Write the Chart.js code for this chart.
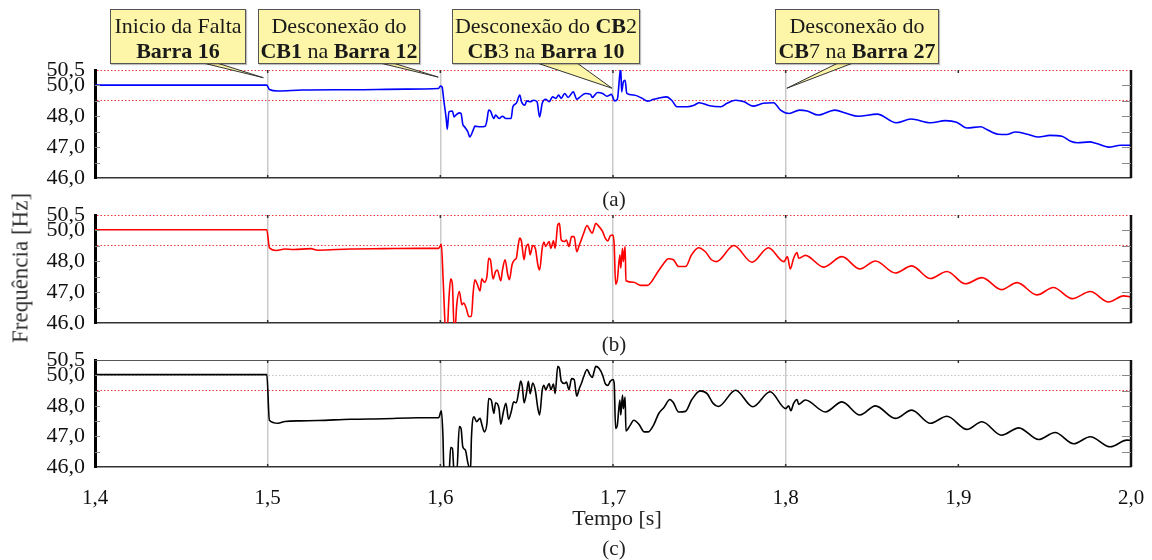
<!DOCTYPE html>
<html>
<head>
<meta charset="utf-8">
<script src="https://cdn.jsdelivr.net/npm/chart.js@4.4.1/dist/chart.umd.min.js"></script>
<style>
  body { margin: 0; background: #fff; width: 1152px; height: 560px; position: relative; overflow: hidden;
         font-family: "Liberation Serif", "Times New Roman", serif; color: #222; }
  canvas { position: absolute; left: 0; }
  .lbl { position: absolute; transform: translate(-50%, -50%); font-size: 21px; line-height: 1; white-space: nowrap; }
  .box { position: absolute; top: 9px; height: 55px; box-sizing: border-box; background: #fdf6a8;
         border: 1px solid #555; text-align: center; font-size: 22px; line-height: 25px; padding-top: 3px;
         white-space: nowrap; box-shadow: 1px 1px 1px rgba(0,0,0,0.25); color: #1a1a1a; }
</style>
</head>
<body>
<canvas id="chartA" width="1152" height="190" style="top:0"></canvas>
<canvas id="chartB" width="1152" height="130" style="top:200px"></canvas>
<canvas id="chartC" width="1152" height="215" style="top:345px"></canvas>

<div class="lbl" style="left:614px;top:199px">(a)</div>
<div class="lbl" style="left:614px;top:344px">(b)</div>
<div class="lbl" style="left:614px;top:548px">(c)</div>
<div class="lbl" style="left:617px;top:518px;font-size:22px">Tempo [s]</div>
<div class="lbl" style="left:20px;top:268px;font-size:23px;color:#333;transform:translate(-50%,-50%) rotate(-90deg)">Frequência [Hz]</div>
<div id="boxes"></div>

<script>
// ---- eixos ----
const xTickValues = [1.4, 1.5, 1.6, 1.7, 1.8, 1.9, 2.0];
const xTickLabels = ['1,4', '1,5', '1,6', '1,7', '1,8', '1,9', '2,0'];
const yTickValues = [46, 46.5, 47, 47.5, 48, 48.5, 49, 49.5];
const yTickLabels = ['46,0', '', '47,0', '', '48,0', '', '50,0', '50,5'];
const eventTimes = [1.5, 1.6, 1.7, 1.8];   // linhas verticais cinza
const limitLines = [48.5, 49.5];           // linhas pontilhadas vermelhas

// ---- (a) ----
const timeA = [
  1.400, 1.4995, 1.501, 1.506, 1.520, 1.550, 1.580, 1.599, 1.600, 1.601,
  1.602, 1.6035, 1.604, 1.605, 1.607, 1.608, 1.609, 1.611, 1.612, 1.613,
  1.614, 1.616, 1.617, 1.619, 1.620, 1.623, 1.626, 1.627, 1.628, 1.629,
  1.631, 1.632, 1.634, 1.636, 1.638, 1.641, 1.642, 1.644, 1.646, 1.647,
  1.649, 1.650, 1.652, 1.654, 1.656, 1.6575, 1.659, 1.661, 1.663, 1.665,
  1.667, 1.6685, 1.670, 1.672, 1.674, 1.677, 1.679, 1.681, 1.684, 1.687,
  1.688, 1.691, 1.694, 1.6965, 1.699, 1.701, 1.7025, 1.704, 1.7045, 1.705,
  1.706, 1.707, 1.708, 1.712, 1.717, 1.720, 1.7235, 1.726, 1.731, 1.734,
  1.737, 1.743, 1.747, 1.750, 1.756, 1.7625, 1.766, 1.771, 1.776, 1.781,
  1.787, 1.793, 1.797, 1.802, 1.808, 1.8125, 1.819, 1.8285, 1.835, 1.842,
  1.853, 1.864, 1.8725, 1.884, 1.8925, 1.899, 1.905, 1.913, 1.9165, 1.923,
  1.928, 1.933, 1.940, 1.9465, 1.953, 1.960, 1.965, 1.969, 1.976, 1.980,
  1.987, 1.994, 2.000
];
const freqA = [
  49.01, 49.01, 48.87, 48.82, 48.85, 48.86, 48.88, 48.90, 48.98, 48.95,
  48.52, 47.87, 47.58, 48.14, 48.17, 47.98, 48.04, 48.11, 48.09, 47.74,
  47.66, 47.49, 47.33, 47.55, 47.68, 47.66, 47.68, 47.87, 48.20, 48.17,
  47.93, 48.04, 47.93, 48.00, 47.93, 47.93, 48.31, 48.42, 48.69, 48.47,
  48.36, 48.50, 48.47, 48.52, 48.47, 47.98, 48.42, 48.55, 48.47, 48.63,
  48.58, 48.69, 48.58, 48.74, 48.61, 48.79, 48.55, 48.63, 48.74, 48.71,
  48.61, 48.77, 48.74, 48.65, 48.71, 48.50, 48.55, 49.39, 49.55, 48.79,
  49.12, 49.17, 48.74, 48.69, 48.58, 48.49, 48.55, 48.58, 48.63, 48.52,
  48.31, 48.31, 48.36, 48.44, 48.34, 48.31, 48.42, 48.52, 48.47, 48.33,
  48.42, 48.44, 48.20, 48.09, 48.20, 48.17, 48.04, 48.20, 48.10, 48.00,
  48.07, 47.79, 47.91, 47.79, 47.86, 47.81, 47.62, 47.66, 47.57, 47.42,
  47.41, 47.49, 47.42, 47.33, 47.38, 47.35, 47.19, 47.14, 47.17, 47.12,
  47.00, 47.06, 47.06
];

// ---- (b) ----
const timeB = [
  1.400, 1.4995, 1.501, 1.505, 1.510, 1.515, 1.525, 1.529, 1.548, 1.5675,
  1.587, 1.599, 1.6006, 1.6015, 1.602, 1.603, 1.604, 1.605, 1.606, 1.607,
  1.608, 1.6085, 1.6095, 1.611, 1.6125, 1.6135, 1.615, 1.6165, 1.618, 1.619,
  1.620, 1.6215, 1.623, 1.624, 1.6255, 1.627, 1.628, 1.629, 1.6305, 1.632,
  1.633, 1.635, 1.636, 1.6375, 1.639, 1.640, 1.6415, 1.643, 1.644, 1.645,
  1.646, 1.647, 1.6485, 1.6495, 1.651, 1.652, 1.6535, 1.655, 1.6565, 1.6575,
  1.659, 1.660, 1.661, 1.663, 1.664, 1.6655, 1.6665, 1.668, 1.669, 1.670,
  1.672, 1.673, 1.6745, 1.676, 1.6775, 1.679, 1.6805, 1.682, 1.683, 1.685,
  1.6865, 1.688, 1.689, 1.690, 1.692, 1.694, 1.6955, 1.697, 1.6985, 1.700,
  1.7007, 1.7015, 1.7025, 1.704, 1.7045, 1.7055, 1.706, 1.707, 1.7075, 1.712,
  1.716, 1.720, 1.7225, 1.7255, 1.7295, 1.732, 1.735, 1.738, 1.742, 1.7455,
  1.7495, 1.7535, 1.757, 1.760, 1.770, 1.7805, 1.790, 1.799, 1.801, 1.8027,
  1.8046, 1.8066, 1.8075, 1.8114, 1.822, 1.8326, 1.843, 1.852, 1.8635, 1.873,
  1.8838, 1.8934, 1.904, 1.9137, 1.925, 1.934, 1.9455, 1.955, 1.966, 1.9764,
  1.987, 1.9957, 2.000
];
const freqB = [
  49.02, 49.02, 48.44, 48.35, 48.40, 48.38, 48.41, 48.36, 48.40, 48.41,
  48.42, 48.42, 48.55, 47.56, 46.91, 45.80, 45.80, 46.81, 47.43, 47.24,
  45.80, 45.80, 46.59, 47.02, 46.59, 46.65, 46.48, 46.21, 46.21, 46.97,
  47.40, 47.24, 47.04, 47.43, 47.32, 47.51, 48.10, 48.05, 47.43, 47.67,
  47.72, 47.37, 47.72, 48.05, 47.58, 47.40, 47.88, 48.05, 48.10, 48.48,
  48.75, 48.64, 48.05, 48.42, 48.55, 48.21, 48.51, 48.42, 47.88, 47.72,
  48.42, 48.62, 48.48, 48.64, 48.42, 48.66, 48.42, 49.18, 49.23, 48.69,
  48.64, 48.69, 48.48, 48.80, 48.80, 48.31, 48.53, 48.75, 48.91, 49.16,
  49.02, 48.91, 49.07, 49.23, 49.12, 48.96, 48.75, 48.66, 48.83, 48.85,
  48.53, 47.26, 47.40, 48.21, 47.78, 48.42, 47.99, 48.48, 47.37, 47.32,
  47.22, 47.22, 47.35, 47.62, 47.94, 48.08, 48.05, 47.83, 47.83, 48.21,
  48.44, 48.31, 48.05, 47.99, 48.51, 47.97, 48.44, 47.99, 48.15, 47.75,
  48.10, 48.28, 48.10, 48.19, 47.81, 48.15, 47.75, 48.01, 47.62, 47.85,
  47.44, 47.67, 47.27, 47.47, 47.08, 47.31, 46.91, 47.15, 46.79, 47.02,
  46.68, 46.88, 46.84
];

// ---- (c) ----
const timeC = [
  1.400, 1.4995, 1.501, 1.506, 1.510, 1.519, 1.529, 1.548, 1.5675, 1.587,
  1.599, 1.6006, 1.6015, 1.602, 1.604, 1.605, 1.606, 1.607, 1.608, 1.6095,
  1.611, 1.612, 1.613, 1.6145, 1.616, 1.6175, 1.618, 1.6195, 1.621, 1.623,
  1.624, 1.6255, 1.627, 1.628, 1.6295, 1.631, 1.632, 1.634, 1.635, 1.6365,
  1.638, 1.6395, 1.641, 1.6425, 1.644, 1.6455, 1.6465, 1.6475, 1.6485, 1.650,
  1.651, 1.652, 1.6535, 1.655, 1.6565, 1.6575, 1.659, 1.660, 1.661, 1.663,
  1.664, 1.6655, 1.6665, 1.668, 1.669, 1.670, 1.672, 1.673, 1.6745, 1.676,
  1.6775, 1.679, 1.6805, 1.682, 1.683, 1.685, 1.6865, 1.688, 1.689, 1.690,
  1.692, 1.694, 1.6955, 1.697, 1.6985, 1.700, 1.7007, 1.7015, 1.7025, 1.704,
  1.7045, 1.7055, 1.706, 1.707, 1.7075, 1.710, 1.712, 1.715, 1.718, 1.7205,
  1.7235, 1.7265, 1.7295, 1.733, 1.735, 1.738, 1.742, 1.7455, 1.7505, 1.7545,
  1.758, 1.761, 1.771, 1.781, 1.791, 1.800, 1.8017, 1.803, 1.8046, 1.8066,
  1.8075, 1.8114, 1.823, 1.8326, 1.843, 1.852, 1.8635, 1.873, 1.8838, 1.8934,
  1.905, 1.9137, 1.925, 1.935, 1.9465, 1.956, 1.9668, 1.9764, 1.988, 1.9976,
  2.000
];
const freqC = [
  49.02, 49.02, 47.53, 47.43, 47.49, 47.51, 47.52, 47.56, 47.58, 47.61,
  47.61, 47.84, 47.04, 46.01, 45.80, 45.80, 46.64, 46.61, 45.80, 45.80,
  47.32, 47.26, 46.66, 46.55, 46.12, 45.90, 46.94, 47.64, 47.48, 47.59,
  47.40, 47.15, 47.43, 48.24, 48.19, 47.75, 48.10, 47.91, 47.40, 47.80,
  48.08, 47.56, 47.80, 48.13, 48.10, 48.51, 48.81, 48.62, 48.10, 48.46,
  48.80, 48.40, 48.75, 48.51, 47.91, 47.70, 48.51, 48.67, 48.53, 48.73,
  48.53, 48.71, 48.40, 49.29, 49.22, 48.81, 48.73, 48.78, 48.53, 48.89,
  48.86, 48.32, 48.57, 48.78, 48.95, 49.19, 49.03, 48.93, 49.11, 49.29,
  49.22, 49.00, 48.73, 48.67, 48.81, 48.86, 48.73, 47.26, 47.37, 48.19,
  47.70, 48.35, 47.91, 48.29, 47.18, 47.37, 47.53, 47.40, 47.15, 47.15,
  47.37, 47.75, 47.95, 48.21, 48.10, 47.80, 47.82, 48.19, 48.49, 48.40,
  48.08, 47.98, 48.51, 47.97, 48.46, 47.91, 48.00, 47.84, 48.08, 48.21,
  48.05, 48.19, 47.80, 48.13, 47.70, 48.00, 47.59, 47.86, 47.43, 47.66,
  47.23, 47.48, 47.04, 47.28, 46.90, 47.13, 46.76, 46.99, 46.66, 46.88,
  46.87
];

// ---- balões (a) ----
const calloutLine1 = ['Inicio da Falta', 'Desconexão do', 'Desconexão do <b>CB</b>2', 'Desconexão do'];
const calloutLine2 = ['<b>Barra 16</b>', '<b>CB1</b> na <b>Barra 12</b>', '<b>CB</b>3 na <b>Barra 10</b>', '<b>CB</b>7 na <b>Barra 27</b>'];
const calloutTipTime = [1.4975, 1.5988, 1.6994, 1.8007];
const calloutTipFreq = [49.25, 49.27, 48.91, 48.91];

// posição dos balões (layout, px)
const boxLeft = [110, 258, 452, 775];
const boxWidth = [136, 162, 188, 164];
const boxBottom = 64;
const wedgeBase = [[203, 217], [380, 393], [537, 577], [838, 853]];

const boxesEl = document.getElementById('boxes');
calloutLine1.forEach((l1, i) => {
  const d = document.createElement('div');
  d.className = 'box';
  d.style.left = boxLeft[i] + 'px';
  d.style.width = boxWidth[i] + 'px';
  d.innerHTML = l1 + '<br>' + calloutLine2[i];
  boxesEl.appendChild(d);
});

const near = (a, b) => Math.abs(a - b) < 1e-6;
const FONT_X = { family: '"Liberation Serif", "Times New Roman", serif', size: 21 };
const FONT_Y = { family: '"Liberation Serif", "Times New Roman", serif', size: 22 };

// sem padding automático das escalas: a área do gráfico fica fixa pelo layout
const noPad = s => { s.paddingLeft = 0; s.paddingRight = 0; s.paddingTop = 0; s.paddingBottom = 0; };

// moldura: borda direita e marcas internas
const framePlugin = {
  id: 'frame',
  afterDraw(chart, args, opts) {
    const { ctx, chartArea: a, scales: { x, y } } = chart;
    ctx.save();
    if (opts.topLine) {
      ctx.strokeStyle = '#555'; ctx.lineWidth = 1;
      ctx.beginPath(); ctx.moveTo(a.left, a.top + 0.5); ctx.lineTo(a.right, a.top + 0.5); ctx.stroke();
    }
    ctx.strokeStyle = '#111'; ctx.lineWidth = 2.5;
    ctx.beginPath(); ctx.moveTo(a.right, a.top); ctx.lineTo(a.right, a.bottom); ctx.stroke();
    ctx.strokeStyle = '#333'; ctx.lineWidth = 1.5;
    xTickValues.slice(1, -1).forEach(v => {
      const px = x.getPixelForValue(v);
      ctx.beginPath();
      ctx.moveTo(px, a.top); ctx.lineTo(px, a.top + 3);
      ctx.moveTo(px, a.bottom); ctx.lineTo(px, a.bottom - 3);
      ctx.stroke();
    });
    ctx.strokeStyle = '#888'; ctx.lineWidth = 1;
    yTickValues.slice(1, -1).forEach(v => {
      const py = Math.round(y.getPixelForValue(v)) + 0.5;
      ctx.beginPath();
      ctx.moveTo(a.left, py); ctx.lineTo(a.left + 5, py);
      ctx.moveTo(a.right - 9, py); ctx.lineTo(a.right, py);
      ctx.stroke();
    });
    ctx.restore();
  }
};

// setas dos balões
const calloutPlugin = {
  id: 'callout',
  afterDatasetsDraw(chart) {
    const { ctx, scales: { x, y } } = chart;
    ctx.save();
    ctx.fillStyle = '#fdf6a8';
    ctx.strokeStyle = '#333';
    ctx.lineWidth = 1;
    calloutTipTime.forEach((t, i) => {
      const tx = x.getPixelForValue(t), ty = y.getPixelForValue(calloutTipFreq[i]);
      ctx.beginPath();
      ctx.moveTo(wedgeBase[i][0], boxBottom - 1);
      ctx.lineTo(tx, ty);
      ctx.lineTo(wedgeBase[i][1], boxBottom - 1);
      ctx.closePath();
      ctx.fill();
      ctx.beginPath();
      ctx.moveTo(wedgeBase[i][0], boxBottom - 1);
      ctx.lineTo(tx, ty);
      ctx.lineTo(wedgeBase[i][1], boxBottom - 1);
      ctx.stroke();
    });
    ctx.restore();
  }
};

function makePanel(id, times, freqs, color, cfg) {
  return new Chart(document.getElementById(id), {
    type: 'line',
    data: {
      datasets: [{
        data: times.map((t, i) => ({ x: t, y: freqs[i] })),
        borderColor: color,
        borderWidth: 1.6,
        pointRadius: 0,
        cubicInterpolationMode: 'monotone'
      }]
    },
    options: {
      responsive: false,
      animation: false,
      layout: { padding: { top: cfg.padTop, bottom: cfg.padBottom, left: 0, right: 21 } },
      plugins: {
        legend: { display: false },
        tooltip: { enabled: false },
        frame: { topLine: !!cfg.topLine }
      },
      scales: {
        x: {
          type: 'linear', min: 1.4, max: 2.0,
          afterBuildTicks: s => { s.ticks = xTickValues.map(v => ({ value: v })); },
          afterFit: s => { s.height = cfg.xHeight; noPad(s); },
          ticks: {
            display: cfg.showX, padding: 19, color: '#111', font: FONT_X, maxRotation: 0, autoSkip: false,
            callback: (v, i) => xTickLabels[i]
          },
          grid: {
            drawTicks: false, lineWidth: 1.5,
            color: c => (c.tick && eventTimes.some(e => near(e, c.tick.value))) ? '#c9c9c9' : 'rgba(0,0,0,0)'
          },
          border: { color: '#333', width: 1.5 }
        },
        y: {
          min: 46, max: 49.5,
          afterBuildTicks: s => { s.ticks = yTickValues.map(v => ({ value: v })); },
          afterFit: s => { s.width = 95; noPad(s); },
          ticks: { padding: 10, color: '#111', font: FONT_Y, autoSkip: false, callback: (v, i) => yTickLabels[i] },
          grid: {
            drawTicks: false, lineWidth: 1,
            color: c => {
              if (!c.tick) return 'rgba(0,0,0,0)';
              if (limitLines.some(l => near(l, c.tick.value))) return '#ef3b3b';
              if (cfg.grayLine && near(c.tick.value, 49)) return '#c4c4c4';
              return 'rgba(0,0,0,0)';
            }
          },
          border: { color: '#000', width: 3, dash: [1.5, 2] }
        }
      }
    },
    plugins: cfg.extra ? [framePlugin, cfg.extra] : [framePlugin]
  });
}

makePanel('chartA', timeA, freqA, '#0000ff', { padTop: 70, padBottom: 12, xHeight: 0, showX: false, extra: calloutPlugin });
makePanel('chartB', timeB, freqB, '#ff0000', { padTop: 15, padBottom: 7, xHeight: 0, showX: false });
makePanel('chartC', timeC, freqC, '#000000', { padTop: 15, padBottom: 43, xHeight: 50, showX: true, topLine: true, grayLine: true });
</script>
</body>
</html>
